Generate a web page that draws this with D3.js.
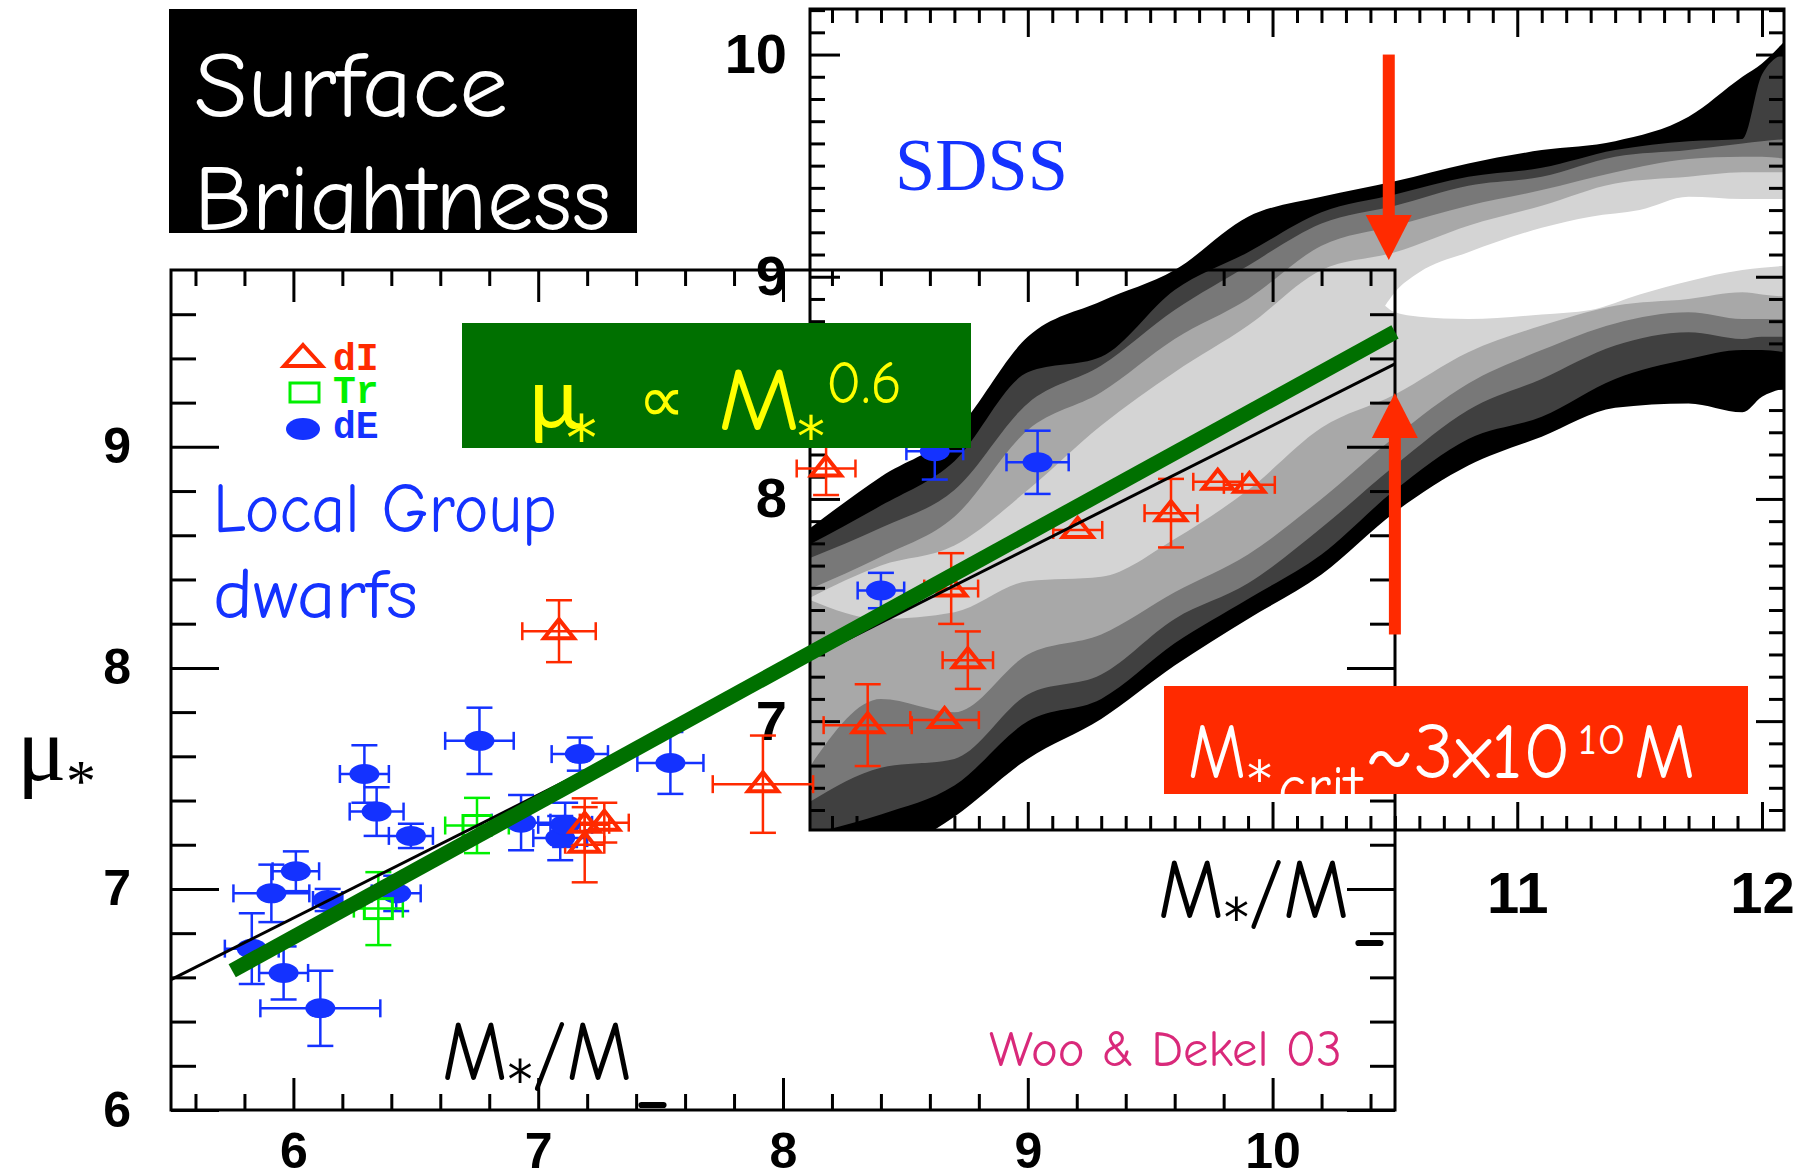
<!doctype html>
<html lang="en">
<head>
<meta charset="UTF-8" />
<title>Surface Brightness</title>
<script src="https://d3js.org/d3.v7.min.js"></script>
<style>
  html, body { margin: 0; padding: 0; background: #fff; overflow: hidden; }
  svg { display: block; }
  .axis path { display: none; }
  .axis line { stroke: #000; stroke-width: 3px; }
  .axis text { font-family: "Liberation Sans", "DejaVu Sans", sans-serif; font-weight: bold; fill: #000; }
  .hand { font-family: "Comic Sans MS", "Comic Neue", "Lato", sans-serif; }
  .star { font-family: "DejaVu Sans", sans-serif; }
</style>
</head>
<body>
<svg id="chart" width="1807" height="1172"></svg>
<script>
// ---- Local Group dwarfs (Woo & Dekel 03) ----
// dE: filled blue
const dEx  = [5.83, 5.91, 5.96, 6.01, 6.11, 6.14, 6.29, 6.34, 6.42, 6.48, 6.76, 6.93, 7.09, 7.11, 7.17, 7.54, 8.40, 8.62, 9.04];
const dEy  = [6.73, 6.98, 6.62, 7.08, 6.46, 6.95, 7.52, 7.35, 6.98, 7.24, 7.67, 7.30, 7.23, 7.29, 7.61, 7.57, 8.35, 8.98, 8.93];
const dEex = [0.11, 0.155, 0.10, 0.095, 0.245, 0.06, 0.10, 0.11, 0.10, 0.09, 0.14, 0.12, 0.11, 0.11, 0.115, 0.135, 0.095, 0.116, 0.127];
const dEey = [0.16, 0.13, 0.12, 0.09, 0.17, 0.05, 0.13, 0.11, 0.08, 0.055, 0.15, 0.125, 0.10, 0.10, 0.075, 0.14, 0.08, 0.128, 0.143];
// dI: open red triangles
const dIx  = [7.085, 7.918, 7.19, 7.27, 7.19, 8.346, 8.66, 8.755, 8.687, 8.176, 9.204, 9.585, 9.776, 9.905];
const dIy  = [8.166, 7.474, 7.29, 7.30, 7.20, 7.741, 7.764, 8.035, 8.359, 8.902, 8.624, 8.70, 8.842, 8.828];
const dIex = [0.15, 0.205, 0.10, 0.10, 0.08, 0.18, 0.14, 0.103, 0.11, 0.12, 0.10, 0.108, 0.10, 0.104];
const dIey = [0.14, 0.22, 0.12, 0.09, 0.17, 0.185, 0, 0.13, 0.16, 0.12, 0, 0.155, 0, 0];
// Tr: open green squares
const trx  = [6.75, 6.347];
const try_ = [7.287, 6.911];
const trex = [0.13, 0.10];
const trey = [0.125, 0.165];

// fit lines
const blackFitX = [5.5, 10.5];
const blackFitY = [6.59, 9.375];
const greenFitX = [5.75, 10.5];
const greenFitY = [6.63, 9.52];

// ---- SDSS density contours (upper panel) ----
const sdssX     = [8.1, 8.4, 8.7, 9.0, 9.3, 9.6, 9.9, 10.2, 10.5, 10.8, 11.1, 11.4, 11.7, 11.92, 12.0, 12.1];
const blackTop  = [7.86, 8.10, 8.30, 8.73, 8.89, 9.03, 9.27, 9.36, 9.43, 9.51, 9.57, 9.61, 9.72, 9.90, 9.96, 10.07];
const blackBot  = [6.29, 6.38, 6.57, 6.83, 7.01, 7.25, 7.46, 7.66, 7.94, 8.15, 8.28, 8.41, 8.43, 8.39, 8.46, 8.50];
const darkTop   = [7.79, 7.97, 8.17, 8.57, 8.64, 8.94, 9.11, 9.29, 9.37, 9.45, 9.49, 9.57, 9.61, 9.62, 9.91, 10.01];
const darkBot   = [6.49, 6.58, 6.71, 7.00, 7.10, 7.35, 7.55, 7.75, 8.04, 8.27, 8.37, 8.54, 8.63, 8.67, 8.67, 8.66];
const grayTop   = [7.73, 7.87, 8.04, 8.43, 8.60, 8.85, 9.05, 9.24, 9.32, 9.41, 9.45, 9.54, 9.57, 9.60, 9.61, 9.62];
const grayBot   = [6.63, 6.79, 6.83, 7.12, 7.21, 7.46, 7.62, 7.87, 8.15, 8.40, 8.54, 8.69, 8.75, 8.72, 8.73, 8.73];
const midTop    = [7.59, 7.74, 7.92, 8.31, 8.48, 8.72, 8.90, 9.14, 9.23, 9.32, 9.39, 9.47, 9.53, 9.54, 9.54, 9.53];
const midBot    = [6.78, 7.10, 7.04, 7.30, 7.39, 7.58, 7.75, 8.00, 8.28, 8.52, 8.67, 8.79, 8.84, 8.81, 8.81, 8.81];
const lightTop  = [7.55, 7.70, 7.79, 8.04, 8.33, 8.57, 8.78, 9.03, 9.11, 9.23, 9.32, 9.42, 9.45, 9.47, 9.47, 9.47];
const lightBot  = [7.55, 7.46, 7.49, 7.63, 7.65, 7.82, 8.04, 8.32, 8.47, 8.66, 8.78, 8.87, 8.90, 8.93, 8.92, 8.91];
const coreX     = [10.46, 10.5, 10.6, 10.8, 11.1, 11.3, 11.5, 11.7, 11.92, 12.0, 12.1];
const coreTop   = [8.87, 8.93, 9.02, 9.11, 9.22, 9.27, 9.30, 9.36, 9.35, 9.35, 9.35];
const coreBot   = [8.87, 8.84, 8.82, 8.81, 8.83, 8.85, 8.92, 8.98, 9.03, 9.04, 9.05];

// critical mass arrows (upper panel coords)
const arrowX    = [10.475, 10.5];
const arrowFrom = [10.0, 7.39];
const arrowTo   = [9.075, 8.477];

// tick labels
const lowXLabels = [6, 7, 8, 9, 10];
const lowYLabels = [6, 7, 8, 9];
const upXLabels  = [11, 12];
const upYLabels  = [7, 8, 9, 10];

const svg = d3.select("#chart");
const RED = "#ff2a00", BLUE = "#1432ff", GREEN = "#00f000", DKGREEN = "#007000";

const xLow = d3.scaleLinear().domain([5.5, 10.5]).range([171, 1395]);
const yLow = d3.scaleLinear().domain([6, 9.8]).range([1110, 270]);
const xUp  = d3.scaleLinear().domain([8.11, 12.09]).range([810, 1784]);
const yUp  = d3.scaleLinear().domain([6.51, 10.205]).range([830, 9]);

const tenths = (a, b, step) => d3.range(a, b + 1, step).map(v => v / 10);

function axis(gen, scale, pos, values, len, labels, pad, size) {
  const g = svg.append("g").attr("class", "axis").attr("transform", pos)
    .call(gen(scale).tickValues(values).tickSizeInner(-len).tickSizeOuter(0)
      .tickPadding(pad || 0)
      .tickFormat(d => labels && labels.includes(d) ? d3.format("d")(d) : ""));
  g.selectAll("text").style("font-size", (size || 48) + "px");
  return g;
}

// ================= upper SDSS panel =================
svg.append("clipPath").attr("id", "upClip")
  .append("rect").attr("x", 810).attr("y", 9).attr("width", 974).attr("height", 821);

const bands = [
  [sdssX, blackTop, blackBot, "#000000"],
  [sdssX, darkTop, darkBot, "#404040"],
  [sdssX, grayTop, grayBot, "#787878"],
  [sdssX, midTop, midBot, "#a8a8a8"],
  [sdssX, lightTop, lightBot, "#d4d4d4"],
  [coreX, coreTop, coreBot, "#ffffff"]
];
const cont = svg.append("g").attr("clip-path", "url(#upClip)");
bands.forEach(([xs, top, bot, col]) => {
  const area = d3.area()
    .x((d, i) => xUp(xs[i]))
    .y0((d, i) => yUp(bot[i]))
    .y1((d, i) => yUp(top[i]))
    .curve(d3.curveMonotoneX);
  cont.append("path").attr("d", area(xs)).attr("fill", col);
});

const upXMajor = [9, 10, 11, 12];
const upXMinor = tenths(82, 120, 1).filter(v => !upXMajor.includes(v));
const upYMajor = [7, 8, 9, 10];
const upYMinor = tenths(66, 102, 1).filter(v => !upYMajor.includes(v));

axis(d3.axisBottom, xUp, "translate(0,830)", upXMinor, 14);
axis(d3.axisBottom, xUp, "translate(0,830)", upXMajor, 28, upXLabels, 42, 58);
axis(d3.axisTop, xUp, "translate(0,9)", upXMinor, 14);
axis(d3.axisTop, xUp, "translate(0,9)", upXMajor, 28);
axis(d3.axisLeft, yUp, "translate(810,0)", upYMinor, 15);
axis(d3.axisLeft, yUp, "translate(810,0)", upYMajor, 30, upYLabels, 23, 56);
axis(d3.axisRight, yUp, "translate(1784,0)", upYMinor, 15);
axis(d3.axisRight, yUp, "translate(1784,0)", upYMajor, 28);

svg.append("rect").attr("x", 810).attr("y", 9).attr("width", 974).attr("height", 821)
  .attr("fill", "none").attr("stroke", "#000").attr("stroke-width", 3);

// ================= lower Local Group panel =================
const lowXMajor = [6, 7, 8, 9, 10];
const lowXMinor = tenths(56, 104, 2).filter(v => !lowXMajor.includes(v));
const lowYMajor = [6, 7, 8, 9];
const lowYMinor = tenths(62, 96, 2).filter(v => !lowYMajor.includes(v));

axis(d3.axisBottom, xLow, "translate(0,1110)", lowXMinor, 16);
axis(d3.axisBottom, xLow, "translate(0,1110)", lowXMajor, 32, lowXLabels, 22, 50);
axis(d3.axisTop, xLow, "translate(0,270)", lowXMinor, 16);
axis(d3.axisTop, xLow, "translate(0,270)", lowXMajor, 32);
axis(d3.axisLeft, yLow, "translate(171,0)", lowYMinor, 25);
axis(d3.axisLeft, yLow, "translate(171,0)", lowYMajor, 48, lowYLabels, 40, 50);
axis(d3.axisRight, yLow, "translate(1395,0)", lowYMinor, 25);
axis(d3.axisRight, yLow, "translate(1395,0)", lowYMajor, 48);

svg.append("rect").attr("x", 171).attr("y", 270).attr("width", 1224).attr("height", 840)
  .attr("fill", "none").attr("stroke", "#000").attr("stroke-width", 3);

// error bars + markers
function errBars(xs, ys, exs, eys, color) {
  const g = svg.append("g").attr("stroke", color).attr("stroke-width", 2.5).attr("fill", "none");
  xs.forEach((x, i) => {
    const cx = xLow(x), cy = yLow(ys[i]);
    if (exs[i] > 0) {
      const xa = xLow(x - exs[i]), xb = xLow(x + exs[i]);
      g.append("line").attr("x1", xa).attr("x2", xb).attr("y1", cy).attr("y2", cy);
      g.append("line").attr("x1", xa).attr("x2", xa).attr("y1", cy - 9).attr("y2", cy + 9);
      g.append("line").attr("x1", xb).attr("x2", xb).attr("y1", cy - 9).attr("y2", cy + 9);
    }
    if (eys[i] > 0) {
      const ya = yLow(ys[i] - eys[i]), yb = yLow(ys[i] + eys[i]);
      g.append("line").attr("x1", cx).attr("x2", cx).attr("y1", ya).attr("y2", yb);
      g.append("line").attr("x1", cx - 13).attr("x2", cx + 13).attr("y1", ya).attr("y2", ya);
      g.append("line").attr("x1", cx - 13).attr("x2", cx + 13).attr("y1", yb).attr("y2", yb);
    }
  });
}
errBars(dEx, dEy, dEex, dEey, BLUE);
errBars(trx, try_, trex, trey, GREEN);
errBars(dIx, dIy, dIex, dIey, RED);

svg.append("g").selectAll("ellipse").data(dEx).join("ellipse")
  .attr("cx", d => xLow(d)).attr("cy", (d, i) => yLow(dEy[i]))
  .attr("rx", 15).attr("ry", 10).attr("fill", BLUE);
svg.append("g").selectAll("rect").data(trx).join("rect")
  .attr("x", d => xLow(d) - 14).attr("y", (d, i) => yLow(try_[i]) - 10)
  .attr("width", 28).attr("height", 20).attr("fill", "none").attr("stroke", GREEN).attr("stroke-width", 3);
svg.append("g").selectAll("path").data(dIx).join("path")
  .attr("transform", (d, i) => `translate(${xLow(d)},${yLow(dIy[i])})`)
  .attr("d", "M0,-12L15,7L-15,7Z").attr("fill", "none").attr("stroke", RED).attr("stroke-width", 4)
  .attr("stroke-linejoin", "miter");

// fit lines
const line = d3.line().x(d => xLow(d[0])).y(d => yLow(d[1]));
svg.append("path").attr("d", line(blackFitX.map((x, i) => [x, blackFitY[i]])))
  .attr("stroke", "#000").attr("stroke-width", 3).attr("fill", "none");
svg.append("path").attr("d", line(greenFitX.map((x, i) => [x, greenFitY[i]])))
  .attr("stroke", DKGREEN).attr("stroke-width", 15).attr("fill", "none");

// legend
const leg = svg.append("g");
leg.append("path").attr("d", "M303,345L322,366L284,366Z").attr("fill", "none").attr("stroke", RED).attr("stroke-width", 4);
leg.append("rect").attr("x", 290).attr("y", 383).attr("width", 29).attr("height", 19)
  .attr("fill", "none").attr("stroke", GREEN).attr("stroke-width", 3);
leg.append("ellipse").attr("cx", 303).attr("cy", 429).attr("rx", 17).attr("ry", 11).attr("fill", BLUE);
[["dI", 370, RED], ["Tr", 403, GREEN], ["dE", 438, BLUE]].forEach(([t, y, c]) =>
  leg.append("text").attr("x", 333).attr("y", y).text(t).attr("fill", c)
    .style("font-family", "'Liberation Mono', 'DejaVu Sans Mono', monospace")
    .style("font-weight", "bold").style("font-size", "38px"));

// ================= annotations =================
// Surface Brightness title box
svg.append("clipPath").attr("id", "sbClip")
  .append("rect").attr("x", 169).attr("y", 9).attr("width", 468).attr("height", 224);
svg.append("rect").attr("x", 169).attr("y", 9).attr("width", 468).attr("height", 224).attr("fill", "#000");
const sb = svg.append("g").attr("clip-path", "url(#sbClip)").attr("class", "hand")
  .attr("fill", "#fff").style("font-size", "94px");
sb.append("text").attr("x", 194).attr("y", 117).attr("textLength", 314)
  .attr("lengthAdjust", "spacingAndGlyphs").text("Surface");
sb.append("text").attr("x", 194).attr("y", 230).attr("textLength", 417)
  .attr("lengthAdjust", "spacingAndGlyphs").text("Brightness");

// Local Group dwarfs
svg.append("text").attr("class", "hand").attr("x", 213).attr("y", 532).attr("fill", BLUE)
  .style("font-size", "70px").attr("textLength", 344).attr("lengthAdjust", "spacingAndGlyphs").text("Local Group");
svg.append("text").attr("class", "hand").attr("x", 213).attr("y", 618).attr("fill", BLUE)
  .style("font-size", "70px").attr("textLength", 205).attr("lengthAdjust", "spacingAndGlyphs").text("dwarfs");

// SDSS
svg.append("text").attr("x", 895).attr("y", 190).attr("fill", BLUE)
  .style("font-family", "'Liberation Serif', 'DejaVu Serif', serif").style("font-size", "74px")
  .attr("textLength", 173).attr("lengthAdjust", "spacingAndGlyphs").text("SDSS");

// slope box
svg.append("rect").attr("x", 462).attr("y", 323).attr("width", 509).attr("height", 125).attr("fill", DKGREEN);
const sl = svg.append("g").attr("class", "hand").attr("fill", "#ffff00");
sl.append("text").attr("x", 529).attr("y", 428).style("font-size", "86px").text("μ");
sl.append("text").attr("class", "star").attr("x", 566).attr("y", 460).style("font-size", "62px").text("*");
sl.append("text").attr("x", 638).attr("y", 422).style("font-size", "66px")
  .style("font-family", "'DejaVu Sans', sans-serif").text("∝");
sl.append("text").attr("x", 718).attr("y", 430).style("font-size", "88px")
  .attr("textLength", 82).attr("lengthAdjust", "spacingAndGlyphs").text("M");
sl.append("text").attr("class", "star").attr("x", 797).attr("y", 456).style("font-size", "56px").text("*");
sl.append("text").attr("x", 826).attr("y", 403).style("font-size", "60px")
  .attr("textLength", 76).attr("lengthAdjust", "spacingAndGlyphs").text("0.6");

// critical mass arrows
const arr = svg.append("g").attr("fill", RED);
arrowX.forEach((x, i) => {
  const cx = xUp(x), y0 = yUp(arrowFrom[i]), y1 = yUp(arrowTo[i]);
  const dir = y1 > y0 ? 1 : -1;
  const hb = y1 - dir * 45;
  arr.append("rect").attr("x", cx - 6).attr("width", 12)
    .attr("y", Math.min(y0, hb)).attr("height", Math.abs(hb - y0));
  arr.append("path").attr("d", `M${cx - 23},${hb}L${cx + 23},${hb}L${cx},${y1}Z`);
});

// critical mass box
svg.append("clipPath").attr("id", "critClip")
  .append("rect").attr("x", 1164).attr("y", 686).attr("width", 584).attr("height", 108);
svg.append("rect").attr("x", 1164).attr("y", 686).attr("width", 584).attr("height", 108).attr("fill", RED);
const cr = svg.append("g").attr("class", "hand").attr("fill", "#fff").attr("clip-path", "url(#critClip)");
cr.append("text").attr("x", 1188).attr("y", 778).style("font-size", "78px")
  .attr("textLength", 58).attr("lengthAdjust", "spacingAndGlyphs").text("M");
cr.append("text").attr("class", "star").attr("x", 1247).attr("y", 796).style("font-size", "50px").text("*");
cr.append("text").attr("x", 1278).attr("y", 806).style("font-size", "58px")
  .attr("textLength", 84).attr("lengthAdjust", "spacingAndGlyphs").text("crit");
cr.append("text").attr("x", 1365).attr("y", 778).style("font-size", "78px")
  .attr("textLength", 206).attr("lengthAdjust", "spacingAndGlyphs").text("~3x10");
cr.append("text").attr("x", 1578).attr("y", 754).style("font-size", "42px")
  .attr("textLength", 48).attr("lengthAdjust", "spacingAndGlyphs").text("10");
cr.append("text").attr("x", 1634).attr("y", 778).style("font-size", "78px")
  .attr("textLength", 61).attr("lengthAdjust", "spacingAndGlyphs").text("M");

// Woo & Dekel 03
svg.append("text").attr("class", "hand").attr("x", 989).attr("y", 1066).attr("fill", "#d9297a")
  .style("font-size", "50px").attr("textLength", 353).attr("lengthAdjust", "spacingAndGlyphs").text("Woo & Dekel 03");

// axis titles
function massTitle(x, y, w) {
  const t = svg.append("text").attr("class", "hand").attr("x", x).attr("y", y).style("font-size", "84px");
  t.append("tspan").text("M");
  t.append("tspan").attr("dy", 18).style("font-size", "54px").style("font-family", "'DejaVu Sans', sans-serif").text("*");
  t.append("tspan").attr("dy", -18).text("/M");
  t.attr("textLength", w).attr("lengthAdjust", "spacingAndGlyphs");
  svg.append("text").attr("class", "hand").attr("x", x + w + 2).attr("y", y + 40)
    .style("font-size", "62px").style("font-weight", "bold").text("–");
}
massTitle(442, 1080, 190);
massTitle(1158, 918, 191);

svg.append("text").attr("x", 17).attr("y", 780)
  .style("font-family", "'Liberation Serif', 'DejaVu Serif', serif").style("font-size", "92px").text("μ");
svg.append("text").attr("x", 66).attr("y", 801)
  .style("font-family", "'Liberation Serif', 'DejaVu Serif', serif").style("font-size", "60px").text("*");
</script>
</body>
</html>
